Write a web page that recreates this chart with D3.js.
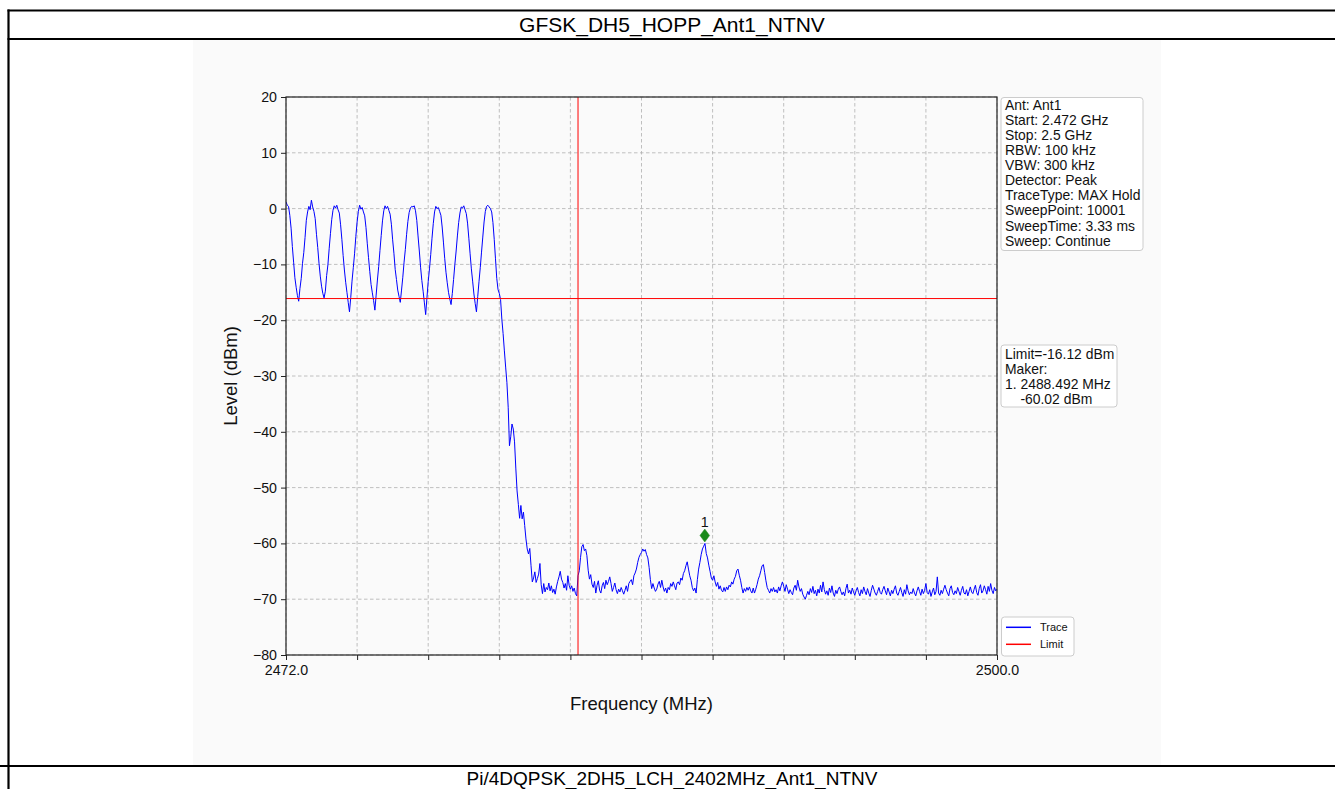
<!DOCTYPE html>
<html><head><meta charset="utf-8">
<script src="https://cdn.jsdelivr.net/npm/d3@7"></script>
<style>
body{margin:0;background:#fff;}
svg{display:block;font-family:"Liberation Sans",Arial,Helvetica,sans-serif;}
</style>
</head><body><svg id="c" width="1335" height="789"></svg>
<script>
// ---------------- data ----------------
const chartTitle = "GFSK_DH5_HOPP_Ant1_NTNV";
const nextTitle = "Pi/4DQPSK_2DH5_LCH_2402MHz_Ant1_NTNV";
const freqStart = 2472.0;
const freqStop = 2500.0;
const freqStep = 0.05;
const yTickValues = [20, 10, 0, -10, -20, -30, -40, -50, -60, -70, -80];
const xTickValues = [2472.0, 2474.8, 2477.6, 2480.4, 2483.2, 2486.0, 2488.8, 2491.6, 2494.4, 2497.2, 2500.0];
const xTickLabels = ["2472.0", "", "", "", "", "", "", "", "", "", "2500.0"];
const limitValue = -16.12;
const bandEdge = 2483.5;
const markerFreq = 2488.492;
const markerLevel = -60.02;
const markerName = "1";
const infoLines = ["Ant: Ant1", "Start: 2.472 GHz", "Stop: 2.5 GHz", "RBW: 100 kHz", "VBW: 300 kHz",
  "Detector: Peak", "TraceType: MAX Hold", "SweepPoint: 10001", "SweepTime: 3.33 ms", "Sweep: Continue"];
const limitLines = ["Limit=-16.12 dBm", "Maker:", "1. 2488.492 MHz", "    -60.02 dBm"];
const legendNames = ["Trace", "Limit"];
const xLabel = "Frequency (MHz)";
const yLabel = "Level (dBm)";

// trace levels (dBm), one per 0.05 MHz from 2472.0 MHz
const levels = [
  1.2, 0.6, 0.4, -1.2, -3.5, -6.8, -9.6, -12.4, -14.1, -15.6,
  -16.6,
  -14.3, -12.5, -9.8, -7.9, -5.2, -2.1, -0.6, 0.4, -0.2, 1.5, 0.3, -0.5, -1.8, -4.6, -7.0, -9.8, -12.1, -13.9, -15.2, -16.0,
  -14.8, -12.0, -10.1, -7.2, -4.5, -2.0, -0.3, 0.5, 0.1, 0.6, -0.2, -0.8, -2.9, -5.5, -8.4, -11.0, -13.2, -15.0, -16.8, -18.5,
  -15.9, -13.0, -10.6, -8.1, -5.0, -2.4, -0.5, 0.6, -0.1, 0.2, -0.6, -1.3, -3.4, -6.2, -8.8, -11.3, -13.6, -15.1, -16.5, -18.2,
  -15.5, -12.8, -10.4, -7.5, -4.8, -2.2, -0.4, 0.5, 0.0, 0.4, -0.3, -1.0, -2.8, -5.6, -8.0, -10.9, -12.7, -14.6, -15.7, -16.8,
  -14.6, -12.3, -9.6, -7.3, -4.6, -2.3, -0.7, 0.1, 0.4, 0.3, 0.5, -0.4, -2.1, -4.9, -7.6, -10.5, -12.9, -14.8, -16.9, -19.0,
  -16.0, -13.1, -10.8, -8.2, -5.3, -2.7, -0.6, 0.4, 0.0, 0.2, -0.5, -1.2, -3.3, -6.0, -8.9, -11.4, -13.3, -15.0, -16.2, -17.2,
  -15.2, -12.7, -10.0, -7.6, -4.9, -2.5, -0.8, 0.3, 0.1, 0.5, -0.2, -0.9, -2.6, -5.3, -8.1, -10.8, -13.0, -15.3, -17.0, -18.5,
  -15.8, -13.1, -10.6, -7.8, -5.1, -2.4, -0.5, 0.4, 0.6, 0.3, 0.0, -0.6, -2.5, -5.5, -9.0, -12.5, -14.5, -15.2, -16.3, -19.8,
  -22.4, -25.5, -28.4, -31.2, -35.6, -42.5, -40.9, -38.6, -39.5, -41.8,
  -46.5, -50.6, -53.0, -55.5, -53.2, -55.6, -54.4, -56.8, -59.2, -61.0,
  -61.9, -60.9, -64.0, -66.9, -66.2, -65.1, -67.0, -66.3, -65.5, -63.6,
  -67.4, -69.0, -67.2, -68.7, -67.9, -68.3, -67.1, -68.5, -67.6, -68.8,
  -68.2, -69.1, -67.8, -66.8, -66.0, -65.0, -66.4, -67.0, -68.0, -67.2,
  -68.4, -65.8, -67.5, -68.2, -67.6, -68.6, -68.0, -69.0, -69.4, -65.8,
  -64.9, -62.5, -60.6, -60.2, -61.3, -61.0, -62.2, -64.8, -66.4, -65.6,
  -67.3, -67.9, -66.8, -68.9, -67.5, -66.7, -68.4, -68.9, -67.6, -67.0,
  -68.1, -66.6, -67.4, -66.8, -66.0, -67.2, -68.6, -67.9, -67.1, -68.3,
  -69.0, -68.2, -68.7, -67.9, -68.5, -69.1, -68.4, -67.6, -68.6, -67.2,
  -66.8, -66.5, -67.4, -65.8, -65.3, -64.6, -63.4, -62.5, -62.0, -61.6,
  -61.0, -61.4, -61.1, -62.0, -62.6, -64.3, -66.5, -68.1, -67.2, -68.0,
  -68.6, -68.2, -67.3, -66.8, -67.9, -66.6, -67.8, -68.6, -68.0, -68.9,
  -67.9, -68.3, -67.2, -67.7, -66.9, -67.6, -68.3, -67.1, -66.9, -67.4,
  -66.2, -66.6, -65.4, -64.9, -64.0, -63.3, -64.6, -65.8, -66.6, -67.9,
  -68.5, -68.0, -68.9, -66.5, -64.6, -63.4, -62.0, -61.0, -60.5, -60.0,
  -61.8, -62.6, -63.9, -65.0, -66.2, -66.6, -65.8, -66.9, -67.7, -67.0,
  -68.2, -67.6, -68.4, -68.7, -67.9, -68.6, -67.8, -68.3, -67.5, -67.8,
  -66.9, -67.3, -66.4, -65.9, -64.9, -64.6, -65.7, -66.6, -67.9, -68.9,
  -68.1, -68.6, -67.9, -68.4, -67.8, -68.5, -68.9, -68.0, -68.9, -68.2,
  -67.4, -66.4, -65.8, -64.9, -64.0, -63.8, -65.2, -66.7, -67.9, -68.4,
  -68.9, -68.1, -68.6, -67.9, -68.7, -68.3, -68.9, -67.8, -68.5, -67.6,
  -66.9, -67.7, -68.6, -67.4, -68.2, -69.0, -68.3, -68.8, -69.2, -68.0,
  -67.5, -68.4, -66.6, -67.8, -68.6, -68.1, -69.1, -69.6, -70.0, -69.3,
  -68.6, -69.2, -68.1, -68.8, -67.7, -69.0, -68.4, -69.4, -68.2, -68.9,
  -67.5, -68.7, -66.9, -68.3, -69.1, -68.5, -69.3, -68.0, -68.8, -67.6,
  -68.9, -69.5, -68.4, -69.0, -68.2, -67.8, -68.6, -69.2, -68.7, -69.4,
  -68.1, -67.3, -68.9, -68.4, -69.1, -68.0, -68.7, -69.3, -68.5, -67.9,
  -68.8, -69.4, -68.3, -69.0, -67.8, -68.6, -69.2, -68.1, -68.9, -69.5,
  -68.4, -67.5, -68.2, -68.9, -69.3, -68.6, -67.9, -68.8, -69.1, -68.3,
  -67.7, -68.5, -69.2, -68.0, -68.7, -69.4, -68.4, -69.0, -68.2, -67.6,
  -68.9, -69.3, -68.6, -67.9, -68.8, -69.5, -68.3, -69.1, -67.4, -68.5,
  -69.2, -68.7, -69.0, -68.1, -68.9, -69.4, -68.5, -67.8, -68.6, -69.3,
  -68.2, -69.0, -68.4, -67.2, -68.8, -69.1, -68.3, -69.5, -68.7, -68.0,
  -69.2, -68.6, -66.0, -68.9, -69.3, -68.4, -69.0, -68.2, -67.5, -68.3,
  -68.9, -69.4, -68.1, -67.6, -68.8, -69.2, -68.5, -69.0, -67.9, -68.6,
  -69.3, -68.4, -67.7, -68.9, -69.1, -68.3, -69.4, -68.6, -67.8, -68.7,
  -69.0, -68.2, -67.5, -68.8, -69.3, -68.1, -67.4, -68.9, -68.5, -67.6,
  -68.3, -69.1, -67.7, -68.6, -67.2, -68.4, -69.0, -67.9, -68.5, -68.2
];

// ---------------- drawing ----------------
const svg = d3.select("#c");
const plot = {left: 286, right: 997, top: 97, bottom: 655};
const x = d3.scaleLinear().domain([freqStart, freqStop]).range([plot.left, plot.right]);
const y = d3.scaleLinear().domain([-80, 20]).range([plot.bottom, plot.top]);
const trace = levels.map((v, i) => ({f: freqStart + i * freqStep, v}));

// page / table frame
svg.append("rect").attr("width", 1335).attr("height", 789).attr("fill", "#fff");
svg.append("rect").attr("x", 193).attr("y", 40).attr("width", 968).attr("height", 725).attr("fill", "#fafafa");
const frame = svg.append("g").attr("stroke", "#000").attr("stroke-width", 2.2);
frame.append("line").attr("x1", 7.5).attr("x2", 1335).attr("y1", 10.5).attr("y2", 10.5);
frame.append("line").attr("x1", 7.5).attr("x2", 1335).attr("y1", 39).attr("y2", 39);
frame.append("line").attr("x1", 0).attr("x2", 1335).attr("y1", 766).attr("y2", 766);
frame.append("line").attr("x1", 8.5).attr("x2", 8.5).attr("y1", 9.5).attr("y2", 789);

svg.append("text").attr("x", 672).attr("y", 24.5).attr("text-anchor", "middle")
  .attr("dominant-baseline", "central").attr("font-size", 21).text(chartTitle);
svg.append("text").attr("x", 672).attr("y", 778.5).attr("text-anchor", "middle")
  .attr("dominant-baseline", "central").attr("font-size", 19).text(nextTitle);

// grid
const grid = svg.append("g").attr("stroke", "#b0b0b0").attr("stroke-width", 0.8).attr("stroke-dasharray", "3.5,2.5");
grid.selectAll("line.gy").data(yTickValues).join("line")
  .attr("x1", plot.left).attr("x2", plot.right).attr("y1", d => y(d)).attr("y2", d => y(d));
grid.selectAll("line.gx").data(xTickValues).join("line")
  .attr("y1", plot.top).attr("y2", plot.bottom).attr("x1", d => x(d)).attr("x2", d => x(d));

// axes
const fmtY = d => (d < 0 ? "\u2212" + Math.abs(d) : String(d));
const yAxis = d3.axisLeft(y).tickValues(yTickValues).tickFormat(fmtY).tickSize(5).tickPadding(4);
const xAxis = d3.axisBottom(x).tickValues(xTickValues).tickFormat((d, i) => xTickLabels[i]).tickSize(5).tickPadding(5);
const gy = svg.append("g").attr("transform", `translate(${plot.left},0)`).call(yAxis);
const gx = svg.append("g").attr("transform", `translate(0,${plot.bottom})`).call(xAxis);
[gy, gx].forEach(g => {
  g.select(".domain").remove();
  g.selectAll(".tick line").attr("stroke", "#222").attr("stroke-width", 1);
  g.selectAll(".tick text").attr("fill", "#111").attr("font-size", 14.2)
    .attr("font-family", "'Liberation Sans', Arial, sans-serif");
});

// clip + trace
svg.append("clipPath").attr("id", "clip").append("rect")
  .attr("x", plot.left).attr("y", plot.top).attr("width", plot.right - plot.left).attr("height", plot.bottom - plot.top);
const line = d3.line().x(d => x(d.f)).y(d => y(d.v));
svg.append("path").datum(trace).attr("clip-path", "url(#clip)")
  .attr("fill", "none").attr("stroke", "#0000ff").attr("stroke-width", 1).attr("stroke-linejoin", "round")
  .attr("d", line);

// limit and band edge
svg.append("line").attr("x1", plot.left).attr("x2", plot.right)
  .attr("y1", y(limitValue)).attr("y2", y(limitValue)).attr("stroke", "#ff0000").attr("stroke-width", 1);
svg.append("line").attr("x1", x(bandEdge)).attr("x2", x(bandEdge))
  .attr("y1", plot.top).attr("y2", plot.bottom).attr("stroke", "#ff0000").attr("stroke-width", 1);

// marker
const mx = x(markerFreq), my = y(markerLevel) - 8;
const dp = d3.path();
dp.moveTo(mx, my - 6.5); dp.lineTo(mx + 4.8, my); dp.lineTo(mx, my + 6.5); dp.lineTo(mx - 4.8, my); dp.closePath();
svg.append("path").attr("d", dp.toString()).attr("fill", "#1a8a1a").attr("stroke", "#1a8a1a").attr("stroke-width", 0.5);
svg.append("text").attr("x", mx).attr("y", my - 9).attr("text-anchor", "middle")
  .attr("font-size", 14.2).attr("fill", "#111").text(markerName);

// spines
svg.append("rect").attr("x", plot.left).attr("y", plot.top)
  .attr("width", plot.right - plot.left).attr("height", plot.bottom - plot.top)
  .attr("fill", "none").attr("stroke", "#222").attr("stroke-width", 1.2);

// axis labels
svg.append("text").attr("x", (plot.left + plot.right) / 2).attr("y", 703).attr("text-anchor", "middle")
  .attr("dominant-baseline", "central").attr("font-size", 18.5).attr("fill", "#111").text(xLabel);
svg.append("text").attr("transform", `translate(230,${(plot.top + plot.bottom) / 2}) rotate(-90)`)
  .attr("text-anchor", "middle").attr("dominant-baseline", "central").attr("font-size", 18.5).attr("fill", "#111").text(yLabel);

// info box
function textBox(lines, bx, by, bw, bh, ty0, dy, size) {
  const g = svg.append("g");
  g.append("rect").attr("x", bx).attr("y", by).attr("width", bw).attr("height", bh).attr("rx", 3)
    .attr("fill", "#fff").attr("fill-opacity", 0.85).attr("stroke", "#cccccc").attr("stroke-width", 1);
  g.selectAll("text").data(lines).join("text")
    .attr("x", bx + 4).attr("y", (d, i) => ty0 + i * dy).attr("dominant-baseline", "central")
    .attr("font-size", size).attr("fill", "#111").style("white-space", "pre").text(d => d);
}
textBox(infoLines, 1001, 97.5, 142, 153, 105, 15.07, 13.9);
textBox(limitLines, 1001, 345, 116, 62, 354, 15.1, 13.9);

// legend
const lg = svg.append("g");
lg.append("rect").attr("x", 1001.5).attr("y", 617).attr("width", 72.5).attr("height", 39).attr("rx", 3)
  .attr("fill", "#fff").attr("fill-opacity", 0.85).attr("stroke", "#cccccc");
const legendColors = ["#0000ff", "#ff0000"];
legendNames.forEach((n, i) => {
  const ly = 627.3 + i * 17;
  lg.append("line").attr("x1", 1006).attr("x2", 1031).attr("y1", ly).attr("y2", ly)
    .attr("stroke", legendColors[i]).attr("stroke-width", 1.5);
  lg.append("text").attr("x", 1040).attr("y", ly).attr("dominant-baseline", "central")
    .attr("font-size", 11).attr("fill", "#111").text(n);
});
</script>
</body></html>
